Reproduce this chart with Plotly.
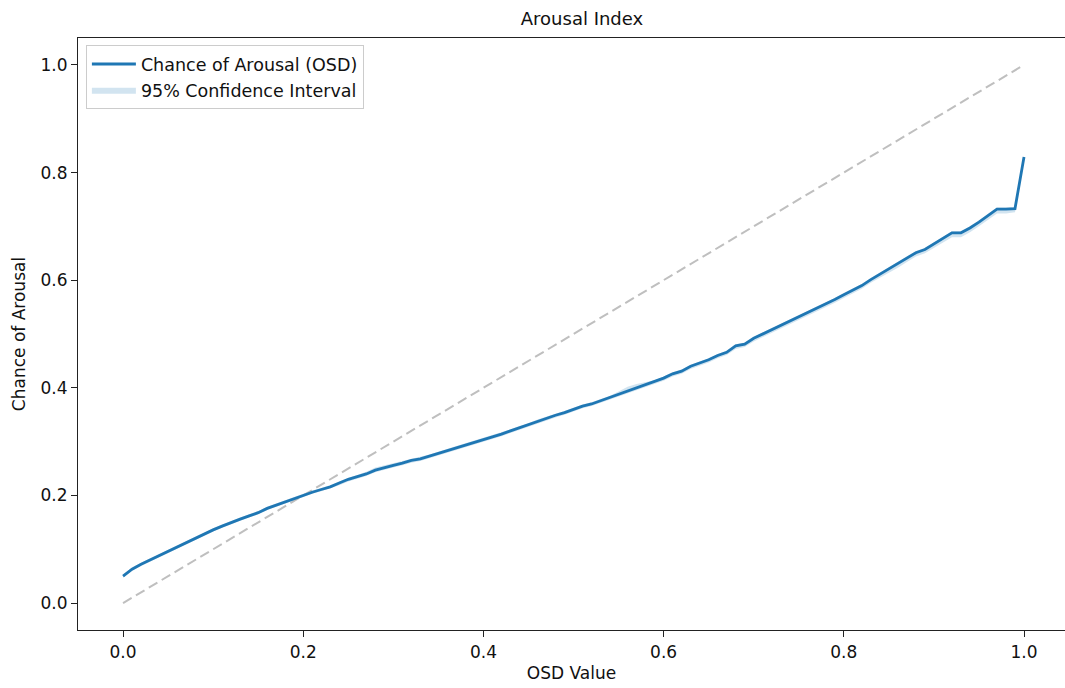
import plotly.graph_objects as go

# OSD value grid (0.00 .. 1.00 in steps of 0.01)
osd_values = [round(i / 100, 2) for i in range(101)]

# Estimated chance of arousal for each OSD value
arousal_chance = [
    0.050, 0.063, 0.072, 0.080, 0.088, 0.096, 0.104, 0.113, 0.120, 0.128,
    0.136, 0.143, 0.150, 0.156, 0.162, 0.168, 0.176, 0.182, 0.189, 0.194,
    0.200, 0.206, 0.211, 0.216, 0.223, 0.230, 0.235, 0.240, 0.247, 0.252,
    0.256, 0.260, 0.265, 0.268, 0.273, 0.278, 0.284, 0.289, 0.294, 0.299,
    0.304, 0.309, 0.314, 0.320, 0.326, 0.331, 0.338, 0.344, 0.349, 0.354,
    0.360, 0.366, 0.370, 0.376, 0.381, 0.387, 0.393, 0.399, 0.405, 0.411,
    0.418, 0.426, 0.431, 0.440, 0.446, 0.452, 0.460, 0.466, 0.478, 0.481,
    0.492, 0.500, 0.508, 0.516, 0.524, 0.531, 0.540, 0.548, 0.555, 0.564,
    0.573, 0.581, 0.590, 0.601, 0.611, 0.620, 0.630, 0.641, 0.651, 0.657,
    0.667, 0.677, 0.688, 0.688, 0.697, 0.708, 0.720, 0.732, 0.732, 0.733,
    0.829,
]

# 95% confidence bounds
ci_lower = [
    0.047, 0.060, 0.069, 0.077, 0.085, 0.093, 0.101, 0.110, 0.117, 0.125,
    0.133, 0.140, 0.147, 0.153, 0.159, 0.165, 0.173, 0.179, 0.186, 0.191,
    0.197, 0.203, 0.208, 0.213, 0.219, 0.226, 0.231, 0.236, 0.243, 0.248,
    0.252, 0.256, 0.261, 0.264, 0.269, 0.274, 0.280, 0.285, 0.290, 0.295,
    0.300, 0.305, 0.310, 0.316, 0.322, 0.327, 0.334, 0.340, 0.345, 0.350,
    0.356, 0.362, 0.366, 0.372, 0.377, 0.383, 0.389, 0.395, 0.401, 0.407,
    0.413, 0.421, 0.426, 0.435, 0.441, 0.447, 0.455, 0.461, 0.472, 0.476,
    0.486, 0.494, 0.502, 0.510, 0.518, 0.525, 0.534, 0.542, 0.549, 0.558,
    0.567, 0.575, 0.584, 0.595, 0.604, 0.613, 0.623, 0.634, 0.644, 0.650,
    0.660, 0.669, 0.680, 0.680, 0.689, 0.700, 0.712, 0.724, 0.724, 0.726,
    0.826,
]
ci_upper = [
    0.053, 0.066, 0.075, 0.083, 0.091, 0.099, 0.107, 0.116, 0.123, 0.131,
    0.139, 0.146, 0.153, 0.159, 0.165, 0.171, 0.179, 0.185, 0.192, 0.197,
    0.203, 0.209, 0.214, 0.219, 0.226, 0.233, 0.238, 0.244, 0.252, 0.256,
    0.260, 0.264, 0.268, 0.271, 0.276, 0.281, 0.287, 0.292, 0.297, 0.302,
    0.307, 0.312, 0.317, 0.323, 0.329, 0.334, 0.341, 0.347, 0.352, 0.357,
    0.363, 0.369, 0.373, 0.379, 0.385, 0.393, 0.402, 0.407, 0.410, 0.414,
    0.421, 0.429, 0.434, 0.443, 0.449, 0.455, 0.463, 0.469, 0.481, 0.484,
    0.495, 0.503, 0.511, 0.519, 0.527, 0.534, 0.543, 0.551, 0.558, 0.567,
    0.576, 0.584, 0.593, 0.604, 0.614, 0.623, 0.633, 0.644, 0.654, 0.660,
    0.670, 0.680, 0.691, 0.691, 0.700, 0.711, 0.723, 0.735, 0.735, 0.736,
    0.832,
]

# Reference diagonal (y = x)
diag_x = [0.0, 1.0]
diag_y = [0.0, 1.0]

BLUE = "#1f77b4"
FONT = "DejaVu Sans"
TEXT = "#111111"

fig = go.Figure()

fig.add_trace(go.Scatter(
    x=osd_values, y=ci_lower, mode="lines",
    line=dict(width=0, color=BLUE), showlegend=False, hoverinfo="skip",
))
fig.add_trace(go.Scatter(
    x=osd_values, y=ci_upper, mode="lines", fill="tonexty",
    fillcolor="rgba(31,119,180,0.2)", line=dict(width=0, color=BLUE),
    name="95% Confidence Interval",
))
fig.add_trace(go.Scatter(
    x=diag_x, y=diag_y, mode="lines",
    line=dict(color="#bfbfbf", width=2, dash="10px,5px"),
    showlegend=False,
))
fig.add_trace(go.Scatter(
    x=osd_values, y=arousal_chance, mode="lines",
    line=dict(color=BLUE, width=2.8),
    name="Chance of Arousal (OSD)",
))

axis_common = dict(
    showgrid=False, zeroline=False, showline=True, linecolor="#222222",
    linewidth=1.2, ticks="outside", ticklen=6, tickwidth=1.2,
    tickcolor="#222222", tickfont=dict(family=FONT, size=17, color=TEXT),
)

fig.update_layout(
    width=1065, height=688,
    margin=dict(l=78, r=0, t=38, b=58),
    paper_bgcolor="white", plot_bgcolor="white",
    font=dict(family=FONT, color=TEXT),
    title=dict(
        text="Arousal Index", font=dict(family=FONT, size=18, color=TEXT),
        x=582 / 1065, xref="container", xanchor="center",
        y=1 - 19 / 688, yref="container", yanchor="middle",
    ),
    xaxis=dict(
        range=[-0.05, 1.0455], tickvals=[0, 0.2, 0.4, 0.6, 0.8, 1.0],
        ticktext=["0.0", "0.2", "0.4", "0.6", "0.8", "1.0"],
        mirror=True,
        title=dict(text="OSD Value", font=dict(family=FONT, size=17, color=TEXT), standoff=6),
        **axis_common,
    ),
    yaxis=dict(
        range=[-0.05, 1.05], tickvals=[0, 0.2, 0.4, 0.6, 0.8, 1.0],
        ticktext=["0.0", "0.2", "0.4", "0.6", "0.8", "1.0"],
        title=dict(text="Chance of Arousal", font=dict(family=FONT, size=17, color=TEXT), standoff=10),
        **axis_common,
    ),
    legend=dict(
        x=0.008, y=0.988, xanchor="left", yanchor="top",
        traceorder="reversed", itemwidth=44,
        bgcolor="rgba(255,255,255,0.9)", bordercolor="#cccccc", borderwidth=1,
        font=dict(family=FONT, size=17.5, color=TEXT),
        tracegroupgap=4,
    ),
)

fig.write_html("out.html")
